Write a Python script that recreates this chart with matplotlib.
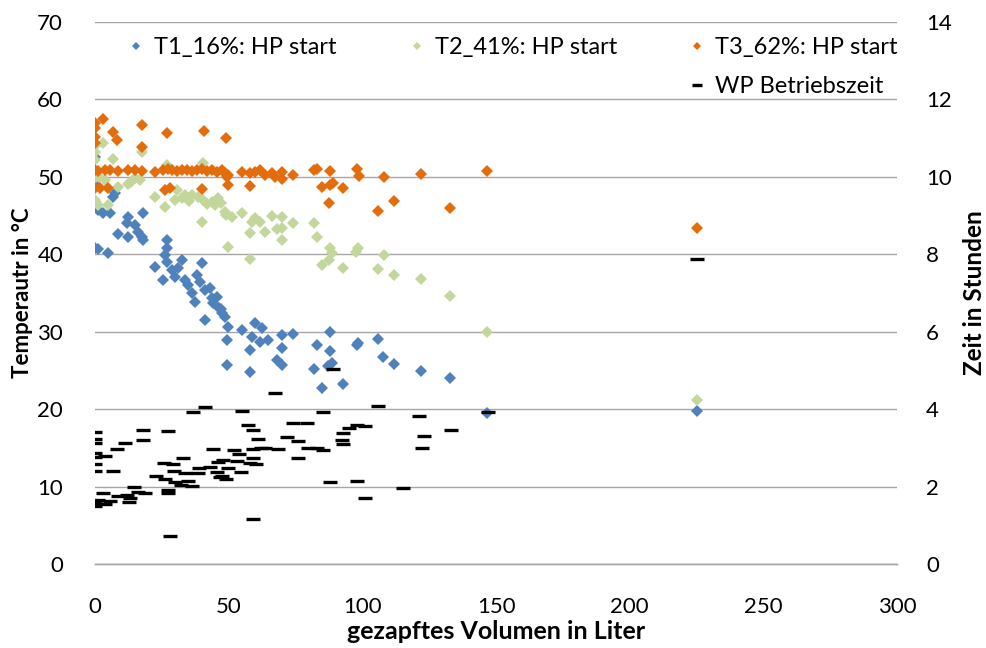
# -*- coding: utf-8 -*-
"""
Speicherentladung: Temperaturen bei WP-Start und WP-Betriebszeit über gezapftem Volumen
"""

import numpy as np
import matplotlib
matplotlib.use('Agg')
import matplotlib.pyplot as plt
from matplotlib.lines import Line2D

plt.rcParams['font.family'] = ['Lato', 'DejaVu Sans']

# T1 (16 % Höhe) - Temperatur bei HP start
t1_vol = [0, 0, 0, 0, 1.1, 3.0, 5.6, 6.7, 7.5, 18, 12.3, 12, 15, 16, 8.6, 12.3, 17.6, 18,
          0, 1.1, 4.9, 27, 27, 26.2, 27, 32.5, 40, 22.4, 28.8, 31, 30, 25.4, 33.7, 38.2,
          34.8, 39.3, 41.2, 43, 36.3, 37.4, 43.8, 45.6, 44.1, 47.5, 48.6, 41.2, 49.8, 55,
          59.9, 62.5, 58.7, 61.7, 64.7, 58, 70, 74, 70, 68, 70, 58, 87.9, 83, 87.9, 98,
          98.4, 105.9, 88.7, 87.2, 82, 107.7, 112, 122, 132.8, 85, 92.8, 146.7, 225,
          49.4, 49.4, 46.5, 47]
t1_temp = [52.5, 49.0, 46.7, 46.3, 45.7, 45.3, 45.3, 47.4, 47.9, 45.3, 44.8, 44.0, 43.7, 42.8,
           42.6, 42.2, 42.2, 41.8, 40.8, 40.6, 40.2, 41.8, 40.8, 39.9, 39.0, 39.2, 38.8, 38.3,
           37.9, 38.2, 37.0, 36.6, 36.6, 37.3, 36.0, 36.4, 35.4, 35.6, 35.0, 33.8, 34.3, 34.5,
           33.7, 32.4, 31.9, 31.5, 30.6, 30.2, 31.1, 30.5, 29.3, 28.6, 28.9, 27.6, 29.5, 29.7,
           27.9, 26.3, 25.7, 24.8, 29.9, 28.3, 27.5, 28.3, 28.5, 29.0, 25.9, 25.5, 25.2, 26.7,
           25.8, 24.9, 24.0, 22.7, 23.2, 19.5, 19.8, 28.9, 25.7, 33.0, 32.9]

# T2 (41 % Höhe)
t2_vol = [0, 3.0, 0, 17.6, 6.7, 0, 27, 40.4, 0, 3.7, 8.6, 12.3, 15, 16.8, 13.5, 1.5, 0,
          22.4, 26.2, 30.7, 32.5, 33.7, 36.3, 38.5, 40.4, 43.8, 46, 48.6, 51.3, 40, 55,
          58.7, 58, 0, 1.1, 4.9, 30, 35, 42, 45, 47, 49, 59.9, 61.7, 66.2, 70, 63.6, 68,
          70, 70, 74, 82, 83, 58, 87.9, 88.7, 87.5, 85, 92.8, 98.4, 97.6, 108, 105.9, 112,
          122, 132.8, 146.7, 225, 49.8]
t2_temp = [54.0, 54.3, 53.2, 53.2, 52.3, 52.1, 51.5, 51.7, 49.8, 49.5, 48.6, 49.1, 49.8, 49.5,
           49.3, 50.0, 50.3, 47.4, 46.1, 48.3, 47.2, 47.6, 47.6, 47.4, 47.0, 46.7, 47.2, 45.4,
           44.8, 44.1, 45.3, 44.1, 42.7, 47.0, 46.3, 46.3, 47.0, 46.8, 46.5, 46.3, 46.6, 45.0,
           44.6, 44.1, 44.9, 44.8, 42.8, 43.2, 43.4, 41.8, 44.0, 44.0, 42.2, 39.4, 40.8, 40.1,
           39.2, 38.6, 38.2, 40.8, 40.3, 39.9, 38.1, 37.3, 36.8, 34.6, 29.9, 21.2, 40.9]

# T3 (62 % Höhe)
t3_vol = [0, 0, 3.0, 0, 0, 6.7, 8.2, 17.6, 17.6, 27, 40.8, 49,
          0, 1.1, 3.7, 5.6, 8.6, 12.3, 15, 17.6, 22.4, 25.4, 27.3, 28.8, 30.7, 32.5, 34.4,
          36.3, 38.2, 40, 41.9, 43.8, 45.6, 47.5, 48.6, 49.8,
          55, 58, 60, 61.7, 63.6, 66.2, 67.3, 70, 70, 74, 82, 83, 87.9, 98, 98.8, 108, 122,
          146.7,
          0, 2, 4.9, 26.2, 28, 40, 49.4, 49.8, 58, 85, 87.9, 89, 92.8, 87.5, 105.9, 112,
          132.8, 225]
t3_temp = [56.9, 56.3, 57.4, 55.1, 54.3, 55.7, 54.7, 56.6, 53.8, 55.6, 55.9, 55.0,
           50.9, 50.7, 50.9, 50.8, 50.7, 50.9, 50.8, 50.7, 50.6, 50.8, 51.0, 50.9, 50.7, 50.8,
           50.9, 50.7, 50.8, 51.0, 50.7, 50.9, 50.6, 50.8, 50.5, 50.2,
           50.6, 50.5, 50.6, 50.8, 50.2, 50.5, 49.9, 50.6, 49.7, 50.2, 50.8, 51.0, 50.7, 51.0,
           50.1, 49.9, 50.3, 50.7,
           48.5, 48.5, 48.5, 48.3, 48.5, 48.4, 49.9, 48.9, 48.8, 48.6, 48.9, 49.2, 48.5, 46.6,
           45.5, 46.8, 46.0, 43.4]

# Betriebszeit der Wärmepumpe in Stunden (rechte Achse)
wp_vol = [0, 0, 0, 0, 0, 3.7, 0, 0, 6.7, 8.2, 11.2, 18, 18, 27.3, 36.7, 41.2, 55, 57.2, 59,
          61, 62, 44.1, 52, 59, 53.9, 32.9, 25.8, 29.2, 59, 58, 46, 53.1, 47.9, 60.2, 38.9,
          43, 49.8, 54.6, 29.6, 33.7, 38.5, 45.6, 47.5, 22.8, 26.2, 29.9, 34.8, 32.2, 36.3,
          46.8, 49, 14.6, 27.3, 27.3, 3, 16.1, 18.7, 8.6, 12, 13.1, 1.1, 5.6, 12.7, 0, 3.7,
          0, 59, 28,
          67.3, 85.3, 105.9, 121.2, 147, 74, 79.3, 95, 98, 101, 92.8, 71.8, 75.9, 92.4, 92.8,
          123, 133.2, 122.3, 63.6, 68.5, 79.7, 83, 85.3, 75.9, 87.9, 98, 115.2, 101, 89, 225]
wp_hours = [3.41, 3.23, 3.12, 2.86, 2.76, 2.79, 2.58, 2.40, 2.40, 2.97, 3.12, 3.46, 3.20, 3.43,
            3.92, 4.05, 3.95, 3.59, 3.46, 3.23, 2.99, 2.97, 2.94, 2.97, 2.84, 2.74, 2.61, 2.58,
            2.74, 2.61, 2.63, 2.66, 2.68, 2.58, 2.48, 2.50, 2.48, 2.37, 2.40, 2.35, 2.35, 2.37,
            2.27, 2.27, 2.19, 2.12, 2.14, 2.04, 2.01, 2.25, 2.19, 1.99, 1.91, 1.83, 1.83, 1.86,
            1.83, 1.75, 1.78, 1.70, 1.65, 1.63, 1.60, 1.57, 1.55, 1.50, 1.16, 0.72,
            4.41, 3.92, 4.08, 3.82, 3.92, 3.64, 3.64, 3.51, 3.59, 3.56, 3.38, 3.28, 3.17, 3.20,
            3.10, 3.30, 3.46, 2.99, 2.99, 2.97, 2.99, 2.99, 2.94, 2.74, 2.12, 2.14, 1.96, 1.70,
            5.03, 7.87]

labels = ['T1_16%: HP start', 'T2_41%: HP start', 'T3_62%: HP start', 'WP Betriebszeit']
colors = ['#4F81BD', '#C3D69B', '#E46C0A', '#000000']

x_ticks = np.arange(0, 301, 50)
left_ticks = np.arange(0, 71, 10)
right_ticks = np.arange(0, 15, 2)


def plot_chart():
    fig = plt.figure(figsize=(9.87, 6.48), dpi=100)
    ax = fig.add_axes([0.0963, 0.1296, 0.8125, 0.837])
    ax2 = ax.twinx()

    # Temperaturen (Rauten)
    handles = []
    for xs, ys, lab, col in zip([t1_vol, t2_vol, t3_vol], [t1_temp, t2_temp, t3_temp],
                                labels[:3], colors[:3]):
        h, = ax.plot(xs, ys, linestyle='none', marker='D', markersize=5.8,
                     color=col, markeredgewidth=0, label=lab, zorder=3)
        handles.append(h)

    # Betriebszeit (Striche)
    h_wp, = ax2.plot(wp_vol, wp_hours, linestyle='none', marker='_', markersize=10,
                     markeredgewidth=2.4, color=colors[3], label=labels[3], zorder=3)

    ax.set_xlim(0, 300)
    ax.set_ylim(0, 70)
    ax2.set_ylim(0, 14)
    ax.set_xticks(x_ticks)
    ax.set_yticks(left_ticks)
    ax2.set_yticks(right_ticks)

    # Gitterlinien nur horizontal
    ax.grid(True, axis='y', color='#A6A6A6', linewidth=1.0)
    ax.set_axisbelow(True)

    for a in (ax, ax2):
        for side in ('left', 'right', 'top'):
            a.spines[side].set_visible(False)
        a.spines['bottom'].set_color('#A6A6A6')
        a.spines['bottom'].set_linewidth(1.0)
        a.tick_params(length=0, labelsize=16, colors='#000000')
    ax.tick_params(axis='x', pad=24)
    ax.tick_params(axis='y', pad=23)
    ax2.tick_params(axis='y', pad=21)

    ax.set_xlabel('gezapftes Volumen in Liter', fontsize=18, fontweight='bold', labelpad=2)
    ax.set_ylabel('Temperautr in °C', fontsize=16, fontweight='bold', labelpad=3)
    ax2.set_ylabel('Zeit in Stunden', fontsize=17.5, fontweight='bold', labelpad=8)

    # Legende: drei Spalten, WP Betriebszeit in der zweiten Zeile rechts
    blank = Line2D([], [], linestyle='none')
    leg = ax2.legend([handles[0], blank, handles[1], blank, handles[2], h_wp],
                     [labels[0], '', labels[1], '', labels[2], labels[3]],
                     ncol=3, loc='upper right', bbox_to_anchor=(1.027, 1.01),
                     frameon=False, fontsize=17, markerscale=0.65,
                     handlelength=0.6, handletextpad=0.45, columnspacing=3.1,
                     labelspacing=0.75)
    leg.set_zorder(5)

    plt.savefig('out.png', dpi=100)


if __name__ == '__main__':
    plot_chart()
